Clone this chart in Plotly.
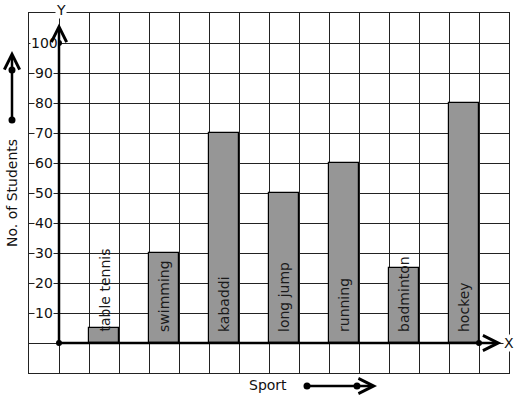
import plotly.graph_objects as go

sports = ["table tennis", "swimming", "kabaddi", "long jump", "running", "badminton", "hockey"]
students = [5, 30, 70, 50, 60, 25, 80]
bar_positions = [1.5, 3.5, 5.5, 7.5, 9.5, 11.5, 13.5]
y_ticks = [10, 20, 30, 40, 50, 60, 70, 80, 90, 100]

FONT = "DejaVu Sans"
FS = 14
W, H = 517, 399
L, R, T, B = 29, 8, 13, 26
PW, PH = W - L - R, H - T - B

def px(x):  # pixel x -> paper
    return (x - L) / PW

def py(y):  # pixel y -> paper
    return (H - B - y) / PH

fig = go.Figure()
fig.add_trace(go.Bar(
    x=bar_positions, y=students, width=1,
    marker=dict(color="rgb(150,150,150)", line=dict(color="black", width=1.2)),
    hoverinfo="skip", showlegend=False,
))

# dots on axes
fig.add_trace(go.Scatter(
    x=[0, 0, 14], y=[100, 0, 0], mode="markers",
    marker=dict(color="black", size=6), showlegend=False, hoverinfo="skip", cliponaxis=False,
))

ann = []
# y tick labels
for v in y_ticks:
    ann.append(dict(x=-0.5, y=v, xref="x", yref="y", text=str(v), showarrow=False,
                    font=dict(family=FONT, size=FS, color="#111"), bgcolor="white",
                    borderpad=0, xanchor="center", yanchor="middle"))
# bar labels
for xpos, name in zip(bar_positions, sports):
    ann.append(dict(x=xpos, y=3.0, xref="x", yref="y", text=name, showarrow=False, textangle=-90,
                    font=dict(family=FONT, size=FS, color="#1a1a1a"), xanchor="center", yanchor="bottom"))
# axis arrows
ann.append(dict(x=0, y=106.5, ax=0, ay=0, xref="x", yref="y", axref="x", ayref="y", text="",
                showarrow=True, arrowhead=5, arrowsize=1.2, arrowwidth=2.5, arrowcolor="black"))
ann.append(dict(x=14.75, y=0, ax=0, ay=0, xref="x", yref="y", axref="x", ayref="y", text="",
                showarrow=True, arrowhead=5, arrowsize=1.2, arrowwidth=2.5, arrowcolor="black"))
# axis letters
ann.append(dict(x=0.05, y=py(10), xref="x", yref="paper", text="Y", showarrow=False, bgcolor="white",
                borderpad=0, xanchor="center", yanchor="middle",
                font=dict(family=FONT, size=FS, color="#111")))
ann.append(dict(x=px(509), y=0, xref="paper", yref="y", text="X", showarrow=False, bgcolor="white",
                borderpad=0, xanchor="center", yanchor="middle",
                font=dict(family=FONT, size=FS, color="#111")))
# axis titles
ann.append(dict(x=px(12), y=py(193), xref="paper", yref="paper", text="No. of Students", textangle=-90,
                showarrow=False, xanchor="center", yanchor="middle",
                font=dict(family=FONT, size=FS, color="#111")))
ann.append(dict(x=px(268), y=py(385), xref="paper", yref="paper", text="Sport",
                showarrow=False, xanchor="center", yanchor="middle",
                font=dict(family=FONT, size=FS, color="#111")))
# indicator arrows
ann.append(dict(x=px(12), y=py(51), xref="paper", yref="paper", ax=0, ay=69, text="",
                showarrow=True, arrowhead=5, arrowsize=1.2, arrowwidth=2.5, arrowcolor="black"))
ann.append(dict(x=px(377), y=py(386), xref="paper", yref="paper", ax=-70, ay=0, text="",
                showarrow=True, arrowhead=5, arrowsize=1.2, arrowwidth=2.5, arrowcolor="black"))

shapes = []
for (cx, cy) in [(12, 120), (12, 70), (307, 386), (357, 386)]:
    shapes.append(dict(type="circle", xref="paper", yref="paper", xsizemode="pixel", ysizemode="pixel",
                       xanchor=px(cx), yanchor=py(cy), x0=-3.5, x1=3.5, y0=-3.5, y1=3.5,
                       fillcolor="black", line=dict(color="black", width=0), layer="above"))

fig.update_layout(
    width=W, height=H, margin=dict(l=L, r=R, t=T, b=B),
    plot_bgcolor="white", paper_bgcolor="white",
    xaxis=dict(range=[-1, 15], dtick=1, tick0=0, showgrid=True, gridcolor="#222", gridwidth=1,
               showticklabels=False, ticks="", zeroline=False,
               showline=True, mirror=True, linecolor="#222", linewidth=1, fixedrange=True),
    yaxis=dict(range=[-10, 110], dtick=10, tick0=0, showgrid=True, gridcolor="#222", gridwidth=1,
               showticklabels=False, ticks="", zeroline=False,
               showline=True, mirror=True, linecolor="#222", linewidth=1, fixedrange=True),
    annotations=ann, shapes=shapes, bargap=0,
)

fig.write_html("out.html", config={"displayModeBar": False},
               post_script="document.body.style.margin='0';document.body.style.overflow='hidden';")
